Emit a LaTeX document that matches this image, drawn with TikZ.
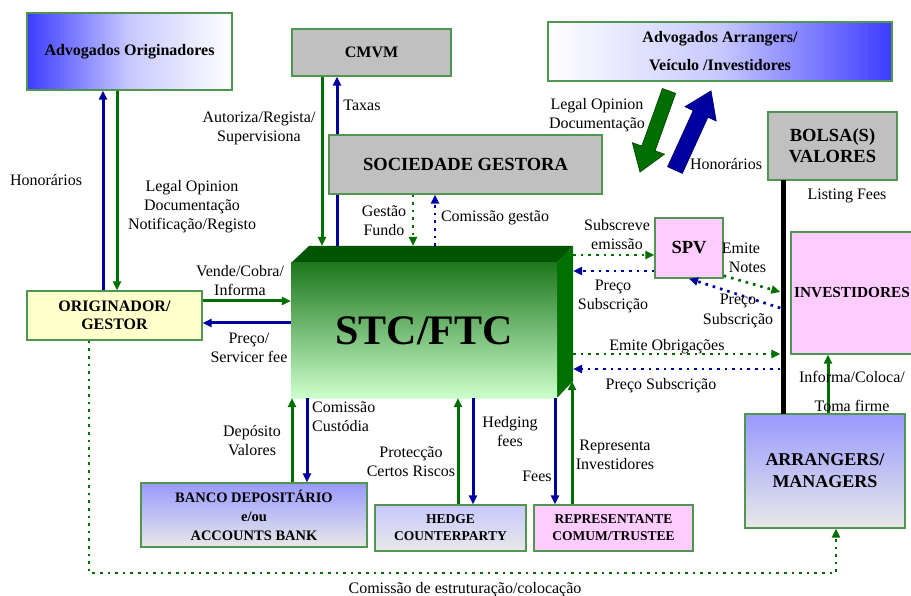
\documentclass[tikz,border=0pt]{standalone}
\usepackage{fontspec}
\setmainfont{Liberation Serif}
\usetikzlibrary{arrows.meta,calc}
\definecolor{lg}{RGB}{0,110,0}
\definecolor{lb}{RGB}{0,0,160}
\definecolor{bord}{RGB}{80,150,80}
\definecolor{gbox}{RGB}{192,192,192}
\definecolor{pinkb}{RGB}{255,204,255}
\definecolor{yelb}{RGB}{255,255,204}
\definecolor{blu1}{RGB}{60,60,255}
\definecolor{blu2}{RGB}{153,153,255}
\definecolor{blu3}{RGB}{200,200,255}
\definecolor{greyl}{RGB}{232,232,232}
\definecolor{stctop}{RGB}{0,85,0}
\definecolor{stcside}{RGB}{0,112,0}
\definecolor{stchi}{RGB}{30,120,30}
\definecolor{stclo}{RGB}{204,255,204}
\tikzset{
  box/.style={draw=bord, line width=1.4pt, inner sep=0pt, align=center, text=black},
  tipg/.style={-{Triangle[length=9pt,width=8pt]}},
  gl/.style={draw=lg, line width=3pt, tipg},
  bl/.style={draw=lb, line width=3pt, tipg},
  gd/.style={draw=lg, line width=2.7pt, dash pattern=on 2.6pt off 5pt, tipg},
  bd/.style={draw=lb, line width=2.7pt, dash pattern=on 2.6pt off 5pt, tipg},
  lab/.style={font=\fontsize{16}{19}\selectfont, align=center, inner sep=0pt},
}
\begin{document}
\begin{tikzpicture}[x=1pt,y=-1pt]
\clip (0,0) rectangle (911,596);
\fill[white] (0,0) rectangle (911,596);

% ---------- boxes (first group) ----------
\node[box, left color=blu1, right color=white, middle color=blu3, minimum width=205pt, minimum height=77pt,
  font=\bfseries\fontsize{16}{19}\selectfont] (advo) at (129.5,51.5) {Advogados Originadores};
\node[box, fill=gbox, minimum width=159pt, minimum height=47pt,
  font=\bfseries\fontsize{16}{19}\selectfont] (cmvm) at (371.5,52.5) {CMVM};

% STC/FTC 3D block
\node[inner sep=0pt, minimum width=264pt, minimum height=135pt] (stcb) at (441,313.5) {};
\fill[stctop] (291,263) -- (309,246) -- (573,246) -- (557,263) -- cycle;
\fill[stcside] (557,263) -- (573,246) -- (573,381) -- (557,398) -- cycle;
\node[inner sep=0pt, top color=stchi, bottom color=stclo, minimum width=266pt, minimum height=135pt,
  font=\bfseries\fontsize{42}{46}\selectfont] (stc) at (424,330.5) {STC/FTC};

% CMVM connectors (behind Sociedade Gestora)
\draw[gl] (322,0 |- cmvm.south) -- (322,0 |- stcb.north);
\draw[bl] (337,0 |- stcb.north) -- (337,0 |- cmvm.south);

\node[box, fill=gbox, minimum width=273pt, minimum height=59pt,
  font=\bfseries\fontsize{18.5}{21}\selectfont] (soc) at (465.5,164.5) {SOCIEDADE GESTORA};
\node[box, left color=white, right color=blu1, middle color=blu3, minimum width=344pt, minimum height=59pt,
  font=\bfseries\fontsize{16}{28}\selectfont] (adva) at (720,51.5) {Advogados Arrangers/\\Veículo /Investidores};
\node[box, fill=gbox, minimum width=129pt, minimum height=68pt,
  font=\bfseries\fontsize{18.5}{21}\selectfont] (bolsa) at (832.5,146) {BOLSA(S)\\VALORES};
\node[box, fill=pinkb, minimum width=68pt, minimum height=60pt,
  font=\bfseries\fontsize{18.5}{21}\selectfont] (spv) at (689,248) {SPV};
\node[box, fill=pinkb, minimum width=144pt, minimum height=122pt] (inv) at (863,293) {};
\node[anchor=west, inner sep=0pt, font=\bfseries\fontsize{15.3}{18}\selectfont] (invt) at (794,293) {INVESTIDORES};
\node[box, top color=blu2, bottom color=greyl, minimum width=160pt, minimum height=114pt,
  font=\bfseries\fontsize{18}{22}\selectfont] (arr) at (825,471) {ARRANGERS/\\MANAGERS};
\node[box, fill=yelb, minimum width=175pt, minimum height=49pt,
  font=\bfseries\fontsize{16}{18}\selectfont] (orig) at (114.5,315.5) {ORIGINADOR/\\GESTOR};
\node[box, top color=blu2, bottom color=greyl, minimum width=226pt, minimum height=64pt,
  font=\bfseries\fontsize{14.5}{19}\selectfont] (banco) at (254,515) {BANCO DEPOSITÁRIO\\e/ou\\ACCOUNTS BANK};
\node[box, top color=blu3, bottom color=greyl, minimum width=151pt, minimum height=46pt,
  font=\bfseries\fontsize{13.5}{17}\selectfont] (hedge) at (450.5,528) {HEDGE\\COUNTERPARTY};
\node[box, fill=pinkb, minimum width=159pt, minimum height=46pt,
  font=\bfseries\fontsize{13.5}{17}\selectfont] (rep) at (613.5,528) {REPRESENTANTE\\COMUM/TRUSTEE};

% black bar between Bolsa and Arrangers
\node[fill=black, inner sep=0pt, minimum width=5pt, minimum height=234pt] (bar) at (783,297) {};

% big block arrows
\filldraw[fill=lg, draw=lg!70!black, line width=0.8pt]
  (675.6,93.4) -- (662.4,88.6) -- (641.8,146.1) -- (632.4,142.8) -- (640,172)
  -- (664.4,154.2) -- (655,150.9) -- cycle;
\filldraw[fill=lb, draw=lb!70!black, line width=0.8pt]
  (682.3,173.3) -- (667.7,166.7) -- (693.3,110.5) -- (685.1,106.7) -- (711,91)
  -- (716.1,120.9) -- (707.9,117.1) -- cycle;

% ---------- connectors ----------
\draw[bl] (103,0 |- orig.north) -- (103,0 |- advo.south);
\draw[gl] (117,0 |- advo.south) -- (117,0 |- orig.north);

\draw[gd] (413,0 |- soc.south) -- (413,0 |- stcb.north);
\draw[bd] (435,0 |- stcb.north) -- (435,0 |- soc.south);

\draw[gl] (orig.east |- 0,301) -- (stc.west |- 0,301);
\draw[bl] (stc.west |- 0,323) -- (orig.east |- 0,323);

\draw[gd] (stcb.east |- 0,255) -- (spv.west |- 0,255);
\draw[bd] (spv.west |- 0,271) -- (stcb.east |- 0,271);

\draw[gd] ($(spv.south east)+(0,-3)$) -- (bar.west |- 0,292);
\draw[bd] (bar.west |- 0,308) -- (spv.south);

\draw[gd] (stcb.east |- 0,354) -- (bar.west |- 0,354);
\draw[bd] (bar.west |- 0,369) -- (stcb.east |- 0,369);

\draw[gl] (828,0 |- arr.north) -- (828,0 |- inv.south);

\draw[gl] (292,0 |- banco.north) -- (292,0 |- stc.south);
\draw[bl] (307,0 |- stc.south) -- (307,0 |- banco.north);
\draw[gl] (458,0 |- hedge.north) -- (458,0 |- stc.south);
\draw[bl] (473,0 |- stc.south) -- (473,0 |- hedge.north);
\draw[bl] (555,0 |- stc.south) -- (555,0 |- rep.north);
\draw[gl] (572,0 |- rep.north) -- (572,0 |- stcb.south);

\coordinate (botR) at (836,573);
\draw[gd] (89,0 |- orig.south) |- (botR) -- (botR |- arr.south);

% ---------- labels ----------
\node[lab] (l1) at (46,180) {Honorários};
\node[lab] (l2) at (192,207) {Legal Opinion\\Documentação\\Notificação/Registo};
\node[lab] (l3) at (259,128) {Autoriza/Regista/\\Supervisiona};
\node[lab] (l4) at (362,105) {Taxas};
\node[lab] (l5) at (384,221) {Gestão\\Fundo};
\node[lab] (l6) at (495,218) {Comissão gestão};
\node[lab] (l7) at (240,281) {Vende/Cobra/\\Informa};
\node[lab] (l8) at (249,348) {Preço/\\Servicer fee};
\node[lab] (l9) at (617,235) {Subscreve\\emissão};
\node[lab] (l10) at (613,296) {Preço\\Subscrição};
\node[lab, align=left] (l11) at (744,258) {Emite\\\hspace*{7pt}Notes};
\node[lab, font=\fontsize{16}{20}\selectfont] (l12) at (738,311) {Preço\\Subscrição};
\node[lab] (l13) at (667,347) {Emite Obrigações};
\node[lab] (l14) at (661,386) {Preço Subscrição};
\node[lab, font=\fontsize{16}{29}\selectfont] (l15) at (852,391.5) {Informa/Coloca/\\Toma firme};
\node[lab] (l16) at (847,196) {Listing Fees};
\node[lab] (l17) at (726,164) {Honorários};
\node[lab] (l18) at (597,115) {Legal Opinion\\Documentação};
\node[lab, align=left, anchor=west] (l19) at (312,416.5) {Comissão\\Custódia};
\node[lab] (l20) at (252,441) {Depósito\\Valores};
\node[lab] (l21) at (411,462) {Protecção\\Certos Riscos};
\node[lab] (l22) at (510,432) {Hedging\\fees};
\node[lab] (l23) at (537,476) {Fees};
\node[lab] (l24) at (615,455) {Representa\\Investidores};
\node[lab] (l25) at (465,590) {Comissão de estruturação/colocação};
\end{tikzpicture}
\end{document}
